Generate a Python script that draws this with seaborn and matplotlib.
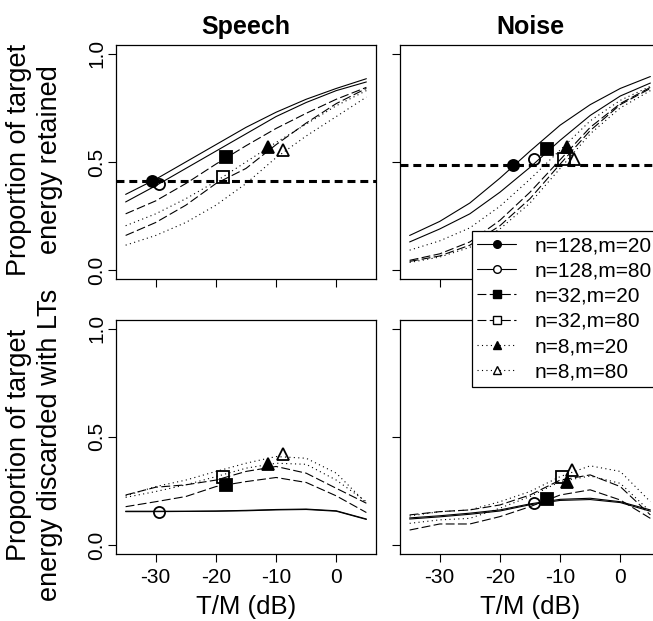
import numpy as np
import pandas as pd
import matplotlib
matplotlib.use("Agg")
import matplotlib.pyplot as plt
import seaborn as sns
from matplotlib.lines import Line2D

# conditions (legend order)
conds = ["n=128,m=20", "n=128,m=80", "n=32,m=20", "n=32,m=80", "n=8,m=20", "n=8,m=80"]
tm = [-35, -30, -25, -20, -15, -10, -5, 0, 5]

# Speech - proportion of target energy retained
sp_ret_128_20 = [0.35, 0.42, 0.50, 0.58, 0.66, 0.73, 0.79, 0.84, 0.885]
sp_ret_128_80 = [0.315, 0.39, 0.47, 0.55, 0.63, 0.71, 0.775, 0.83, 0.87]
sp_ret_32_20 = [0.26, 0.32, 0.40, 0.49, 0.575, 0.655, 0.725, 0.79, 0.845]
sp_ret_32_80 = [0.16, 0.22, 0.30, 0.40, 0.47, 0.58, 0.68, 0.77, 0.84]
sp_ret_8_20 = [0.205, 0.26, 0.33, 0.41, 0.50, 0.59, 0.675, 0.76, 0.83]
sp_ret_8_80 = [0.115, 0.16, 0.22, 0.30, 0.40, 0.52, 0.62, 0.71, 0.80]

# Noise - proportion of target energy retained
no_ret_128_20 = [0.16, 0.225, 0.31, 0.425, 0.55, 0.67, 0.765, 0.84, 0.895]
no_ret_128_80 = [0.13, 0.19, 0.26, 0.36, 0.475, 0.60, 0.715, 0.805, 0.865]
no_ret_32_20 = [0.045, 0.075, 0.13, 0.23, 0.36, 0.51, 0.66, 0.77, 0.845]
no_ret_32_80 = [0.04, 0.065, 0.115, 0.205, 0.33, 0.49, 0.645, 0.765, 0.84]
no_ret_8_20 = [0.092, 0.135, 0.195, 0.295, 0.42, 0.555, 0.69, 0.785, 0.85]
no_ret_8_80 = [0.035, 0.06, 0.105, 0.19, 0.31, 0.47, 0.63, 0.75, 0.83]

# Speech - proportion discarded with LTs
sp_dis_128_20 = [0.156, 0.156, 0.156, 0.157, 0.16, 0.164, 0.166, 0.158, 0.12]
sp_dis_128_80 = [0.154, 0.154, 0.155, 0.156, 0.158, 0.162, 0.164, 0.156, 0.118]
sp_dis_32_20 = [0.177, 0.20, 0.224, 0.27, 0.293, 0.312, 0.289, 0.227, 0.15]
sp_dis_32_80 = [0.231, 0.267, 0.278, 0.30, 0.34, 0.363, 0.332, 0.262, 0.193]
sp_dis_8_20 = [0.22, 0.247, 0.278, 0.316, 0.355, 0.378, 0.373, 0.30, 0.20]
sp_dis_8_80 = [0.227, 0.27, 0.30, 0.34, 0.378, 0.409, 0.401, 0.332, 0.193]

# Noise - proportion discarded with LTs
no_dis_128_20 = [0.125, 0.135, 0.147, 0.162, 0.19, 0.211, 0.216, 0.20, 0.162]
no_dis_128_80 = [0.12, 0.13, 0.142, 0.157, 0.186, 0.206, 0.21, 0.196, 0.156]
no_dis_32_20 = [0.069, 0.097, 0.097, 0.131, 0.177, 0.231, 0.255, 0.208, 0.123]
no_dis_32_80 = [0.139, 0.154, 0.162, 0.185, 0.231, 0.30, 0.324, 0.27, 0.139]
no_dis_8_20 = [0.10, 0.116, 0.123, 0.17, 0.224, 0.293, 0.319, 0.285, 0.154]
no_dis_8_80 = [0.134, 0.154, 0.162, 0.20, 0.247, 0.316, 0.366, 0.34, 0.20]

# marker points
sp_mark_x = [-30.6, -29.5, -18.3, -18.8, -11.4, -8.8]
sp_ret_mark_y = [0.412, 0.40, 0.523, 0.43, 0.569, 0.554]
sp_dis_mark_y = [np.nan, 0.153, 0.275, 0.312, 0.375, 0.421]
no_mark_x = [-17.9, -14.3, -12.2, -9.4, -8.8, -7.7]
no_ret_mark_y = [0.488, 0.514, 0.562, 0.514, 0.57, 0.514]
no_dis_mark_x = [-17.9, -14.3, -12.1, -9.7, -8.8, -8.05]
no_dis_mark_y = [np.nan, 0.193, 0.211, 0.316, 0.293, 0.347]

sp_ref = 0.412
no_ref = 0.488

sns.set_theme(style="ticks")
plt.rcParams["font.family"] = ["Liberation Sans", "DejaVu Sans"]
plt.rcParams["text.color"] = "black"
plt.rcParams["xtick.color"] = "black"
plt.rcParams["ytick.color"] = "black"

dash_list = ["", "", (8, 3), (8, 3), (1, 3), (1, 3)]
mk = ["o", "o", "s", "s", "^", "^"]
filled = [True, False, True, False, True, False]
msz = [8, 8, 8, 8, 9, 9]


def long_df(series):
    rows = []
    for c, vals in zip(conds, series):
        for x, v in zip(tm, vals):
            rows.append({"tm": x, "val": v, "cond": c})
    return pd.DataFrame(rows)


fig = plt.figure(figsize=(6.53, 6.21), dpi=100)
W, H = 653.0, 621.0
lx, rx, pw = 116 / W, 400 / W, 260 / W
ty, by, ph = 1 - 278.7 / H, 1 - 553.6 / H, 233.5 / H

panels = [
    (lx, ty, [sp_ret_128_20, sp_ret_128_80, sp_ret_32_20, sp_ret_32_80, sp_ret_8_20, sp_ret_8_80],
     sp_mark_x, sp_ret_mark_y, sp_ref, True, False),
    (rx, ty, [no_ret_128_20, no_ret_128_80, no_ret_32_20, no_ret_32_80, no_ret_8_20, no_ret_8_80],
     no_mark_x, no_ret_mark_y, no_ref, False, False),
    (lx, by, [sp_dis_128_20, sp_dis_128_80, sp_dis_32_20, sp_dis_32_80, sp_dis_8_20, sp_dis_8_80],
     sp_mark_x, sp_dis_mark_y, None, True, True),
    (rx, by, [no_dis_128_20, no_dis_128_80, no_dis_32_20, no_dis_32_80, no_dis_8_20, no_dis_8_80],
     no_dis_mark_x, no_dis_mark_y, None, False, True),
]

for x0, y0, series, mx, my, ref, ylab, xlab in panels:
    ax = fig.add_axes([x0, y0, pw, ph])
    df = long_df(series)
    sns.lineplot(data=df, x="tm", y="val", hue="cond", style="cond",
                 palette=["black"] * 6, dashes=dash_list, lw=0.8,
                 estimator=None, legend=False, ax=ax)
    for i in range(6):
        ax.plot(mx[i], my[i], ls="none", marker=mk[i], ms=msz[i],
                mfc="black" if filled[i] else "none", mec="black", mew=1.3, zorder=5)
    if ref is not None:
        ax.axhline(ref, color="black", lw=2.2, ls=(0, (2.6, 1.6)), zorder=4)
    ax.set_xlim(-36.6, 6.6)
    ax.set_ylim(-0.04, 1.04)
    ax.set_xticks([-30, -20, -10, 0])
    ax.set_yticks([0, 0.5, 1.0])
    ax.set_xlabel("")
    ax.set_ylabel("")
    for s in ax.spines.values():
        s.set_visible(True)
        s.set_linewidth(0.9)
        s.set_color("black")
    ax.tick_params(direction="out", length=5.5, width=0.8, color="black",
                   labelsize=15, labelcolor="black")
    ax.tick_params(axis="x", pad=5)
    ax.tick_params(axis="y", pad=1.5)
    if ylab:
        ax.set_yticklabels(["0.0", "0.5", "1.0"])
        for t in ax.get_yticklabels():
            t.set_rotation(90)
            t.set_va("center")
    else:
        ax.set_yticklabels([])
    if xlab:
        ax.set_xticklabels(["-30", "-20", "-10", "0"])
    else:
        ax.set_xticklabels([])

# titles and axis labels
fig.text((116 + 376) / 2 / W, 1 - 27 / H, "Speech", ha="center", va="center",
         fontsize=18, fontweight="bold")
fig.text((400 + 660) / 2 / W, 1 - 27 / H, "Noise", ha="center", va="center",
         fontsize=18, fontweight="bold")
fig.text((116 + 376) / 2 / W, 1 - 607 / H, "T/M (dB)", ha="center", va="center", fontsize=18.5)
fig.text((400 + 660) / 2 / W, 1 - 607 / H, "T/M (dB)", ha="center", va="center", fontsize=18.5)
fig.text(34.5 / W, 1 - 160 / H, "Proportion of target\nenergy retained", rotation=90,
         ha="center", va="center", fontsize=19.5, linespacing=1.25)
fig.text(34.5 / W, 1 - 445 / H, "Proportion of target\nenergy discarded with LTs", rotation=90,
         ha="center", va="center", fontsize=19.5, linespacing=1.25)

# legend
handles = []
for i in range(6):
    ls = "-" if dash_list[i] == "" else (0, dash_list[i])
    handles.append(Line2D([0], [0], color="black", lw=0.8, ls=ls, marker=mk[i], ms=5.5,
                          mfc="black" if filled[i] else "white", mec="black", mew=1.0))
leg = fig.legend(handles, conds, loc="upper left", bbox_to_anchor=(471.7 / W, 1 - 231 / H),
                 frameon=True, fancybox=False, edgecolor="black", framealpha=1,
                 fontsize=15, handlelength=1.9, handletextpad=0.85, borderpad=0.25,
                 labelspacing=0.3, borderaxespad=0)
leg.get_frame().set_linewidth(0.9)
leg.set_zorder(10)

fig.savefig("out.png", dpi=100)
